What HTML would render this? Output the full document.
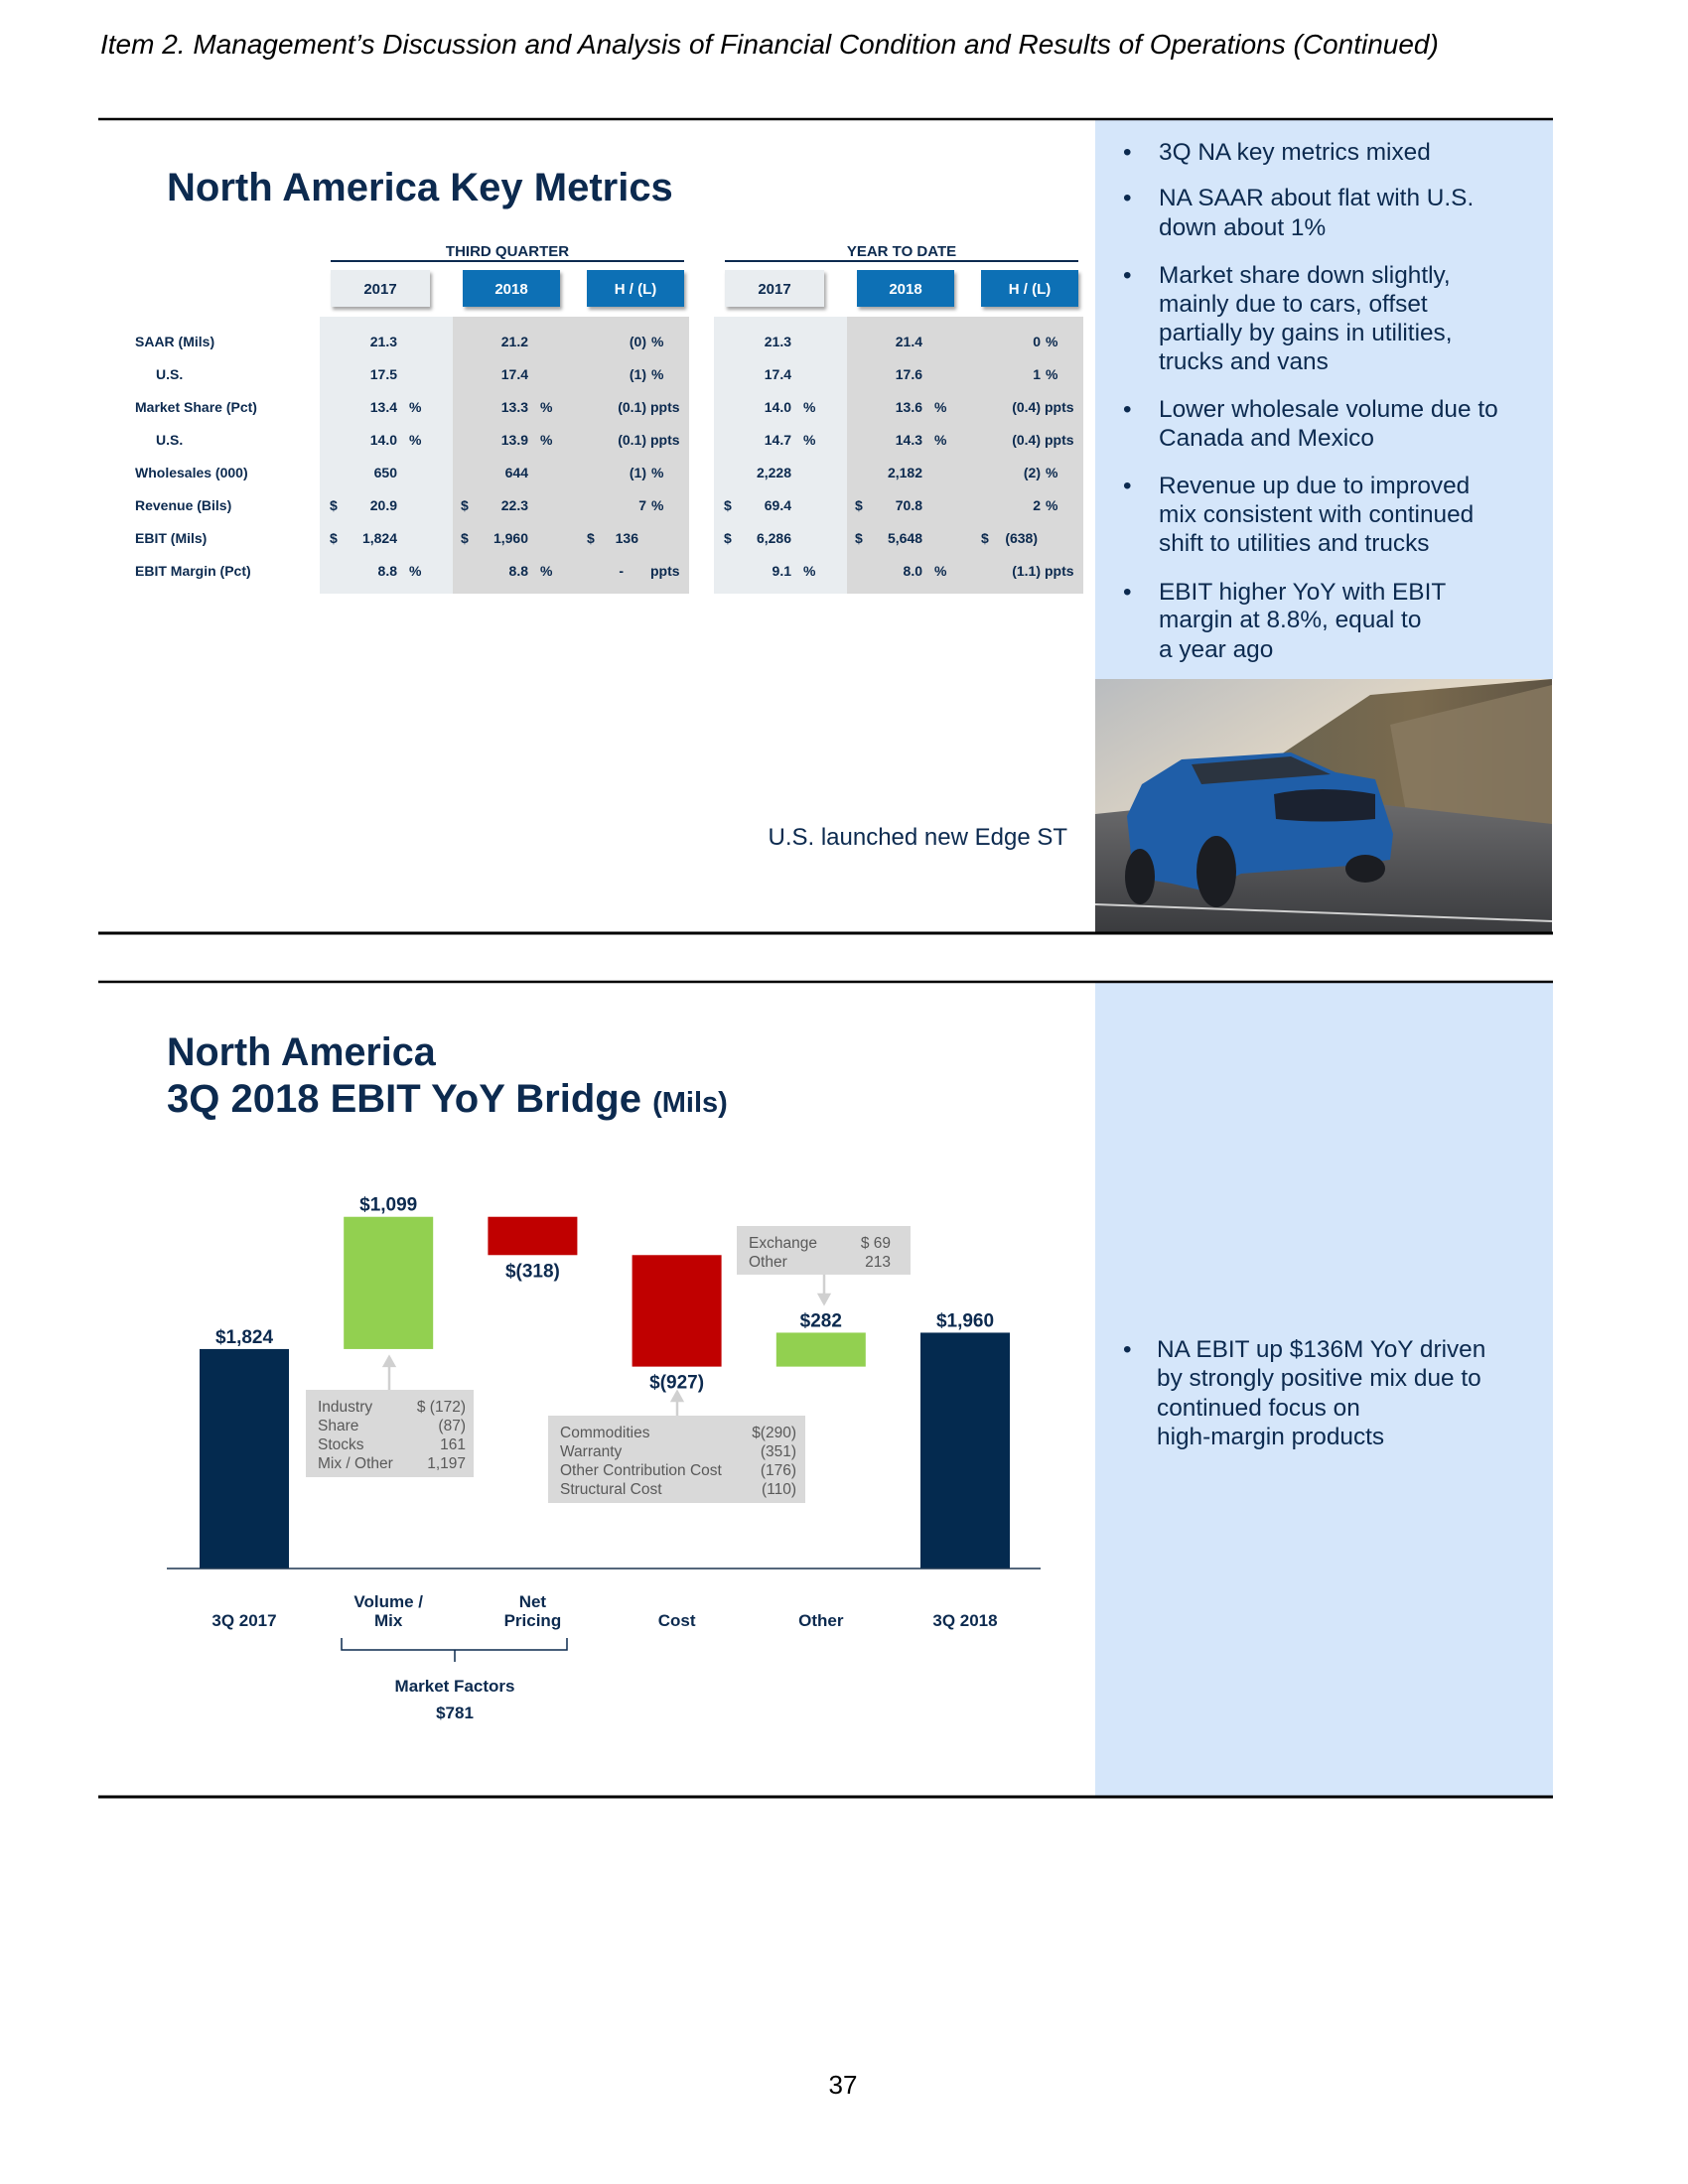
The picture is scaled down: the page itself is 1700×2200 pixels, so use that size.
<!DOCTYPE html>
<html><head><meta charset="utf-8">
<style>
html,body{margin:0;padding:0;background:#fff;}
body{width:1700px;height:2200px;position:relative;overflow:hidden;font-family:"Liberation Sans",Arial,sans-serif;}
svg{position:absolute;left:0;top:0;}
</style></head>
<body>
<svg id="page" width="1700" height="2200" viewBox="0 0 1700 2200" xmlns="http://www.w3.org/2000/svg" font-family="Liberation Sans, Arial, sans-serif">
  <defs>
    <linearGradient id="sky" x1="0" y1="0" x2="1" y2="1">
      <stop offset="0" stop-color="#b9bcbf"/><stop offset="0.5" stop-color="#e9dcc6"/><stop offset="1" stop-color="#d9c8aa"/>
    </linearGradient>
    <linearGradient id="hill" x1="0" y1="0" x2="1" y2="0">
      <stop offset="0" stop-color="#6b6450"/><stop offset="0.5" stop-color="#7a6a4e"/><stop offset="1" stop-color="#5e5444"/>
    </linearGradient>
    <linearGradient id="road" x1="0" y1="0" x2="0" y2="1">
      <stop offset="0" stop-color="#6d6d6f"/><stop offset="1" stop-color="#3a3b3e"/>
    </linearGradient>
    <filter id="sh" x="-10%" y="-10%" width="130%" height="150%"><feDropShadow dx="2" dy="3" stdDeviation="1.5" flood-color="#000" flood-opacity="0.35"/></filter>
  </defs>

  <text x="101" y="54" font-size="28" font-style="italic" fill="#000">Item 2.  Management’s Discussion and Analysis of Financial Condition and Results of Operations (Continued)</text>

  <!-- Section 1 -->
  <rect x="1103" y="120" width="461" height="564" fill="#d5e6fa"/>
  <line x1="99" y1="120" x2="1564" y2="120" stroke="#000" stroke-width="2.5"/>
  <text x="168" y="202" font-size="40" font-weight="bold" fill="#0c2a4f">North America Key Metrics</text>

  <g id="table"></g>

  <g font-size="24.4" fill="#0c2a4f">
    <text x="1131" y="161">•</text><text x="1167" y="161">3Q NA key metrics mixed</text>
    <text x="1131" y="207">•</text><text x="1167" y="207">NA SAAR about flat with U.S.</text><text x="1167" y="237">down about 1%</text>
    <text x="1131" y="285">•</text><text x="1167" y="285">Market share down slightly,</text><text x="1167" y="314">mainly due to cars, offset</text><text x="1167" y="343">partially by gains in utilities,</text><text x="1167" y="372">trucks and vans</text>
    <text x="1131" y="420">•</text><text x="1167" y="420">Lower wholesale volume due to</text><text x="1167" y="449">Canada and Mexico</text>
    <text x="1131" y="497">•</text><text x="1167" y="497">Revenue up due to improved</text><text x="1167" y="526">mix consistent with continued</text><text x="1167" y="555">shift to utilities and trucks</text>
    <text x="1131" y="604">•</text><text x="1167" y="604">EBIT higher YoY with EBIT</text><text x="1167" y="632">margin at 8.8%, equal to</text><text x="1167" y="662">a year ago</text>
  </g>

  <g>
    <rect x="1103" y="684" width="460" height="256" fill="url(#sky)"/>
    <polygon points="1290,760 1380,700 1563,684 1563,845 1300,845" fill="url(#hill)"/>
    <polygon points="1400,730 1563,690 1563,830 1420,840" fill="#8a7a62" opacity="0.8"/>
    <polygon points="1103,820 1200,810 1300,800 1563,830 1563,940 1103,940" fill="url(#road)"/>
    <line x1="1103" y1="911" x2="1563" y2="928" stroke="#cfcfcf" stroke-width="2"/>
    <path d="M1135,822 L1150,790 L1190,765 L1300,758 L1345,778 L1385,785 L1403,840 L1400,866 L1360,872 L1250,880 L1215,898 L1180,890 L1150,885 L1140,870 Z" fill="#1f5ea8"/>
    <path d="M1200,770 L1300,762 L1340,780 L1210,790 Z" fill="#2b3440"/>
    <path d="M1283,800 Q1330,790 1385,800 L1385,825 Q1330,830 1285,825 Z" fill="#1b2230"/>
    <ellipse cx="1148" cy="883" rx="15" ry="28" fill="#1b1d22"/>
    <ellipse cx="1225" cy="878" rx="20" ry="36" fill="#1b1d22"/>
    <ellipse cx="1375" cy="875" rx="20" ry="14" fill="#1b1d22"/>
  </g>
  <text x="1075" y="851" font-size="24" fill="#0c2a4f" text-anchor="end">U.S. launched new Edge ST</text>
  <line x1="99" y1="940" x2="1564" y2="940" stroke="#000" stroke-width="3"/>

  <!-- Section 2 -->
  <rect x="1103" y="989" width="461" height="821" fill="#d5e6fa"/>
  <line x1="99" y1="989" x2="1564" y2="989" stroke="#000" stroke-width="2.5"/>
  <text x="168" y="1073" font-size="39.5" font-weight="bold" fill="#0c2a4f">North America</text>
  <text x="168" y="1120" font-size="40" font-weight="bold" fill="#0c2a4f">3Q 2018 EBIT YoY Bridge <tspan font-size="29">(Mils)</tspan></text>

  <g font-size="24.4" fill="#0c2a4f">
    <text x="1131" y="1367">•</text>
    <text x="1165" y="1367">NA EBIT up $136M YoY driven</text>
    <text x="1165" y="1396">by strongly positive mix due to</text>
    <text x="1165" y="1426">continued focus on</text>
    <text x="1165" y="1455">high-margin products</text>
  </g>

  <g id="chart"></g>

  <line x1="99" y1="1810" x2="1564" y2="1810" stroke="#000" stroke-width="3"/>
  <text x="849" y="2109" font-size="26" text-anchor="middle" fill="#000">37</text>
</svg>

<script>
// ---------- Bridge chart data ----------
const bridgeCategories = ["3Q 2017", "Volume / Mix", "Net Pricing", "Cost", "Other", "3Q 2018"];
const bridgeValues = [1824, 1099, -318, -927, 282, 1960];
const bridgeKinds = ["total", "delta", "delta", "delta", "delta", "total"];
const bridgeLabels = ["$1,824", "$1,099", "$(318)", "$(927)", "$282", "$1,960"];
const volumeMixItems = ["Industry", "Share", "Stocks", "Mix / Other"];
const volumeMixValues = ["$ (172)", "(87)", "161", "1,197"];
const costItems = ["Commodities", "Warranty", "Other Contribution Cost", "Structural Cost"];
const costValues = ["$(290)", "(351)", "(176)", "(110)"];
const otherItems = ["Exchange", "Other"];
const otherValues = ["$  69", "213"];

// ---------- Table data ----------
const rowLabels = ["SAAR (Mils)", "U.S.", "Market Share (Pct)", "U.S.", "Wholesales (000)", "Revenue (Bils)", "EBIT (Mils)", "EBIT Margin (Pct)"];
const q2017 = ["21.3", "17.5", "13.4", "14.0", "650", "20.9", "1,824", "8.8"];
const q2018 = ["21.2", "17.4", "13.3", "13.9", "644", "22.3", "1,960", "8.8"];
const qHL = ["(0)", "(1)", "(0.1)", "(0.1)", "(1)", "7", "136", "-"];
const y2017 = ["21.3", "17.4", "14.0", "14.7", "2,228", "69.4", "6,286", "9.1"];
const y2018 = ["21.4", "17.6", "13.6", "14.3", "2,182", "70.8", "5,648", "8.0"];
const yHL = ["0", "1", "(0.4)", "(0.4)", "(2)", "2", "(638)", "(1.1)"];
const valUnits = ["", "", "%", "%", "", "", "", "%"];
const hlUnits = ["%", "%", "ppts", "ppts", "%", "%", "", "ppts"];
const dollarRows = [false, false, false, false, false, true, true, false];

const NS = "http://www.w3.org/2000/svg";
function mk(tag, attrs, parent, txt) {
  const e = document.createElementNS(NS, tag);
  for (const k in attrs) e.setAttribute(k, attrs[k]);
  if (txt !== undefined) e.textContent = txt;
  parent.appendChild(e);
  return e;
}

// ---------- Build table ----------
(function () {
  const g = document.getElementById("table");
  const navy = "#0c2a4f";
  const groups = [{ off: 0, title: "THIRD QUARTER", a: q2017, b: q2018, c: qHL, name: "third-quarter" },
                  { off: 397, title: "YEAR TO DATE", a: y2017, b: y2018, c: yHL, name: "year-to-date" }];
  const rowY0 = 349, rowDy = 33;
  groups.forEach(grp => {
    const o = grp.off;
    const s1 = mk("rect", { x: 322 + o, y: 319, width: 134, height: 279, fill: "#e9edf0" }, g);
    
    
    const s2 = mk("rect", { x: 456 + o, y: 319, width: 238, height: 279, fill: "#d9d9d9" }, g);
    
    
    const t = mk("text", { x: 511 + o, y: 258, "font-size": 15, "font-weight": "bold", fill: navy, "text-anchor": "middle" }, g, grp.title);
    
    
    const ln = mk("line", { x1: 333 + o, y1: 263, x2: 689 + o, y2: 263, stroke: navy, "stroke-width": 2 }, g);
    
    
    const heads = [["2017", 333, 100, "#e9edf0", navy], ["2018", 466, 98, "#0a6fb5", "#fff"], ["H / (L)", 591, 98, "#0a6fb5", "#fff"]];
    heads.forEach(h => {
      const r = mk("rect", { x: h[1] + o, y: 272, width: h[2], height: 37, fill: h[3], filter: "url(#sh)" }, g);
      
      
      mk("text", { x: h[1] + o + h[2] / 2, y: 296, "font-size": 15, "font-weight": "bold", fill: h[4], "text-anchor": "middle" }, g, h[0]);
    });
    for (let i = 0; i < rowLabels.length; i++) {
      const y = rowY0 + i * rowDy;
      const cols = [[grp.a[i], 400, 412, 332], [grp.b[i], 532, 544, 464]];
      cols.forEach(c => {
        if (dollarRows[i]) mk("text", { x: c[3] + o, y: y, "font-size": 14, "font-weight": "bold", fill: navy }, g, "$");
        const v = mk("text", { x: c[1] + o, y: y, "font-size": 14, "font-weight": "bold", fill: navy, "text-anchor": "end" }, g, c[0]);
        
        
        if (valUnits[i]) mk("text", { x: c[2] + o, y: y, "font-size": 14, "font-weight": "bold", fill: navy }, g, valUnits[i]);
      });
      if (i === 6) {
        mk("text", { x: 591 + o, y: y, "font-size": 14, "font-weight": "bold", fill: navy }, g, "$");
        const v = mk("text", { x: (o ? 648 : 643) + o, y: y, "font-size": 14, "font-weight": "bold", fill: navy, "text-anchor": "end" }, g, grp.c[i]);
        
        
      } else {
        const right = grp.c[i] === "-" ? 628 : 651;
        const v = mk("text", { x: right + o, y: y, "font-size": 14, "font-weight": "bold", fill: navy, "text-anchor": "end" }, g, grp.c[i]);
        
        
        const ux = hlUnits[i] === "%" ? 656 : 655;
        mk("text", { x: ux + o, y: y, "font-size": 14, "font-weight": "bold", fill: navy }, g, hlUnits[i]);
      }
    }
  });
  for (let i = 0; i < rowLabels.length; i++) {
    const indent = rowLabels[i] === "U.S." ? 157 : 136;
    const l = mk("text", { x: indent, y: rowY0 + i * rowDy, "font-size": 14, "font-weight": "bold", fill: navy }, g, rowLabels[i]);
    
    
  }
})();

// ---------- Build bridge chart ----------
(function () {
  const g = document.getElementById("chart");
  const navy = "#0c2a4f";
  const baseY = 1580, pxPerUnit = 0.1212;
  const x0 = 201, step = 145.2, barW = 90;
  const yScale = v => baseY - v * pxPerUnit;
  const xScale = i => x0 + i * step;
  let running = 0;
  const barTops = [], barBottoms = [];
  for (let i = 0; i < bridgeValues.length; i++) {
    let lo, hi, color;
    if (bridgeKinds[i] === "total") { lo = 0; hi = bridgeValues[i]; running = bridgeValues[i]; color = "#042a4f"; }
    else { const nr = running + bridgeValues[i]; lo = Math.min(running, nr); hi = Math.max(running, nr); running = nr; color = bridgeValues[i] >= 0 ? "#92d050" : "#c00000"; }
    const yT = yScale(hi), yB = yScale(lo);
    barTops.push(yT); barBottoms.push(yB);
    const r = mk("rect", { x: xScale(i), y: yT, width: barW, height: yB - yT, fill: color }, g);
    
    
    const neg = bridgeKinds[i] === "delta" && bridgeValues[i] < 0;
    const ly = neg ? yB + 22 : yT - 6;
    const t = mk("text", { x: xScale(i) + barW / 2, y: ly, "font-size": 19, "font-weight": "bold", fill: navy, "text-anchor": "middle" }, g, bridgeLabels[i]);
    
    
    const cx = xScale(i) + barW / 2;
    const cat = bridgeCategories[i];
    let lines = [cat];
    if (cat === "Volume / Mix") lines = ["Volume /", "Mix"];
    if (cat === "Net Pricing") lines = ["Net", "Pricing"];
    const c = mk("text", { x: cx, y: 0, "font-size": 17, "font-weight": "bold", fill: navy, "text-anchor": "middle" }, g);
    
    
    lines.forEach((ln, k) => {
      const yy = lines.length === 2 ? (k === 0 ? 1619 : 1638) : 1638;
      mk("tspan", { x: cx, y: yy }, c, ln);
    });
  }
  const axis = mk("line", { x1: 168, y1: baseY, x2: 1048, y2: baseY, stroke: "#1d3550", "stroke-width": 1.5 }, g);
  
  

  const br = mk("path", { d: "M344,1650 L344,1662 L571,1662 L571,1650 M458,1662 L458,1674", stroke: navy, "stroke-width": 1.5, fill: "none" }, g);
  
  
  const mf = mk("text", { x: 458, y: 1704, "font-size": 17, "font-weight": "bold", fill: navy, "text-anchor": "middle" }, g, "Market Factors");
  
  
  const mv = mk("text", { x: 458, y: 1731, "font-size": 17, "font-weight": "bold", fill: navy, "text-anchor": "middle" }, g, "$781");
  
  

  function callout(name, x, y, w, h, items, vals, valRight, textX, ax, ay1, ay2) {
    const r = mk("rect", { x: x, y: y, width: w, height: h, fill: "#d9d9d9" }, g);
    
    
    items.forEach((it, k) => {
      const yy = y + 22 + k * 19;
      mk("text", { x: textX, y: yy, "font-size": 15.5, fill: "#595959" }, g, it);
      mk("text", { x: valRight, y: yy, "font-size": 15.5, fill: "#595959", "text-anchor": "end" }, g, vals[k]);
    });
    const dir = ay2 < ay1 ? -1 : 1;
    const a = mk("path", { d: `M${ax},${ay1} L${ax},${ay2 - dir * 8} M${ax - 5},${ay2 - dir * 9} L${ax},${ay2} L${ax + 5},${ay2 - dir * 9} Z`, stroke: "#d0d0d0", "stroke-width": 2.5, fill: "#d0d0d0" }, g);
    
    
  }
  callout("volume-mix-breakdown", 308, 1400, 169, 88, volumeMixItems, volumeMixValues, 469, 320, 392, 1400, barBottoms[1] + 8);
  callout("cost-breakdown", 552, 1426, 259, 88, costItems, costValues, 802, 564, 682, 1426, 1402);
  callout("other-breakdown", 742, 1235, 175, 49, otherItems, otherValues, 897, 754, 830, 1284, 1313);
})();
</script>
</body></html>
